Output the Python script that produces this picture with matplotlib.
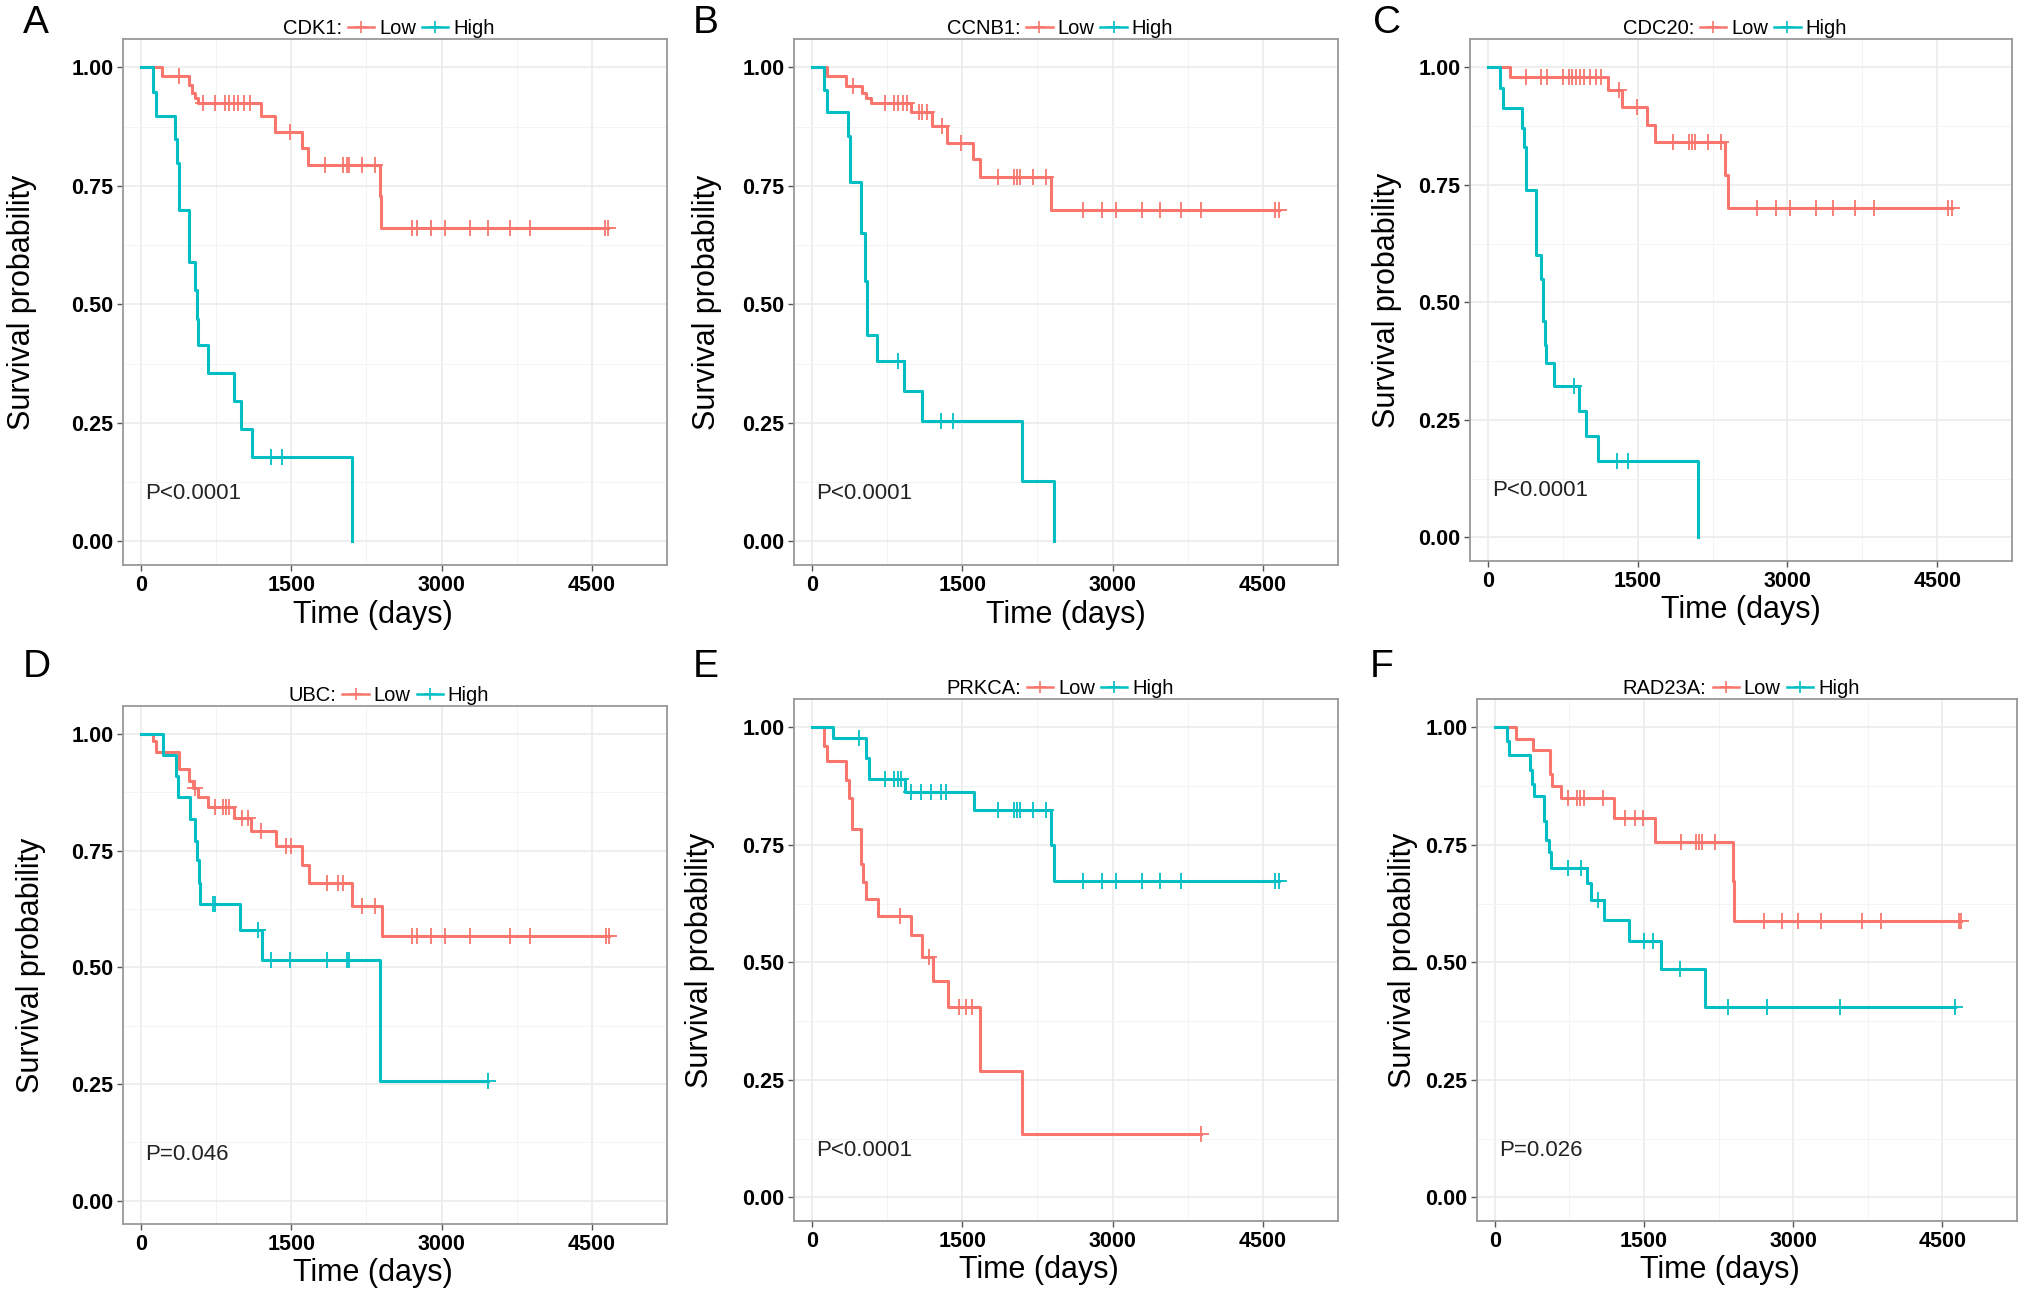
import numpy as np
import matplotlib
matplotlib.use('Agg')
import matplotlib.pyplot as plt
from matplotlib.lines import Line2D
from matplotlib.ticker import MultipleLocator, FormatStrFormatter

plt.rcParams['font.family'] = ['Liberation Sans', 'DejaVu Sans']

LOW_COLOR = '#F8766D'
HIGH_COLOR = '#00BFC4'

panel_letters = ['A', 'B', 'C', 'D', 'E', 'F']
genes = ['CDK1', 'CCNB1', 'CDC20', 'UBC', 'PRKCA', 'RAD23A']
p_texts = ['P<0.0001', 'P<0.0001', 'P<0.0001', 'P=0.046', 'P<0.0001', 'P=0.026']

# event times (days) / survival after each event / censor times
A_low_t = [208, 482, 510, 540, 570, 1200, 1342, 1607, 1664, 2385, 2400]
A_low_s = [0.982, 0.963, 0.945, 0.935, 0.925, 0.897, 0.864, 0.831, 0.794, 0.728, 0.662]
A_low_c = [382, 620, 740, 840, 880, 925, 970, 1025, 1090, 1490, 1837, 2011, 2054, 2076,
           2207, 2337, 2706, 2750, 2893, 3032, 3284, 3467, 3684, 3879, 4630, 4660]
A_high_t = [122, 152, 339, 360, 382, 478, 543, 556, 569, 665, 925, 995, 1108, 2107]
A_high_s = [0.949, 0.898, 0.849, 0.798, 0.70, 0.59, 0.53, 0.47, 0.414, 0.356, 0.297, 0.238, 0.177, 0.0]
A_high_c = [1295, 1412]

B_low_t = [152, 339, 500, 535, 587, 991, 1196, 1352, 1604, 1678, 2383]
B_low_s = [0.981, 0.961, 0.945, 0.935, 0.925, 0.906, 0.876, 0.841, 0.807, 0.768, 0.70]
B_low_c = [404, 730, 817, 861, 904, 948, 1065, 1100, 1143, 1296, 1491, 1861, 2013, 2043,
           2078, 2209, 2339, 2709, 2891, 3035, 3296, 3470, 3687, 3883, 4622, 4665]
B_high_t = [122, 152, 361, 383, 491, 526, 548, 648, 913, 1100, 2100, 2413]
B_high_s = [0.952, 0.905, 0.855, 0.759, 0.65, 0.55, 0.435, 0.38, 0.317, 0.253, 0.127, 0.0]
B_high_c = [861, 1283, 1404]

C_low_t = [217, 1202, 1345, 1597, 1671, 2378, 2404]
C_low_s = [0.979, 0.951, 0.916, 0.878, 0.84, 0.77, 0.70]
C_low_c = [378, 530, 595, 747, 812, 842, 877, 920, 964, 1020, 1085, 1137, 1311, 1493, 1853,
           2014, 2049, 2079, 2200, 2331, 2700, 2882, 3025, 3286, 3459, 3676, 3872, 4609, 4653]
C_high_t = [117, 148, 343, 365, 386, 486, 530, 556, 573, 586, 660, 911, 985, 1102, 2105]
C_high_s = [0.955, 0.914, 0.87, 0.83, 0.738, 0.60, 0.55, 0.46, 0.41, 0.37, 0.323, 0.27, 0.215, 0.162, 0.0]
C_high_c = [864, 1293, 1406]

D_low_t = [122, 152, 374, 478, 521, 569, 665, 925, 1099, 1351, 1607, 1677, 2107, 2402]
D_low_s = [0.985, 0.962, 0.925, 0.899, 0.885, 0.866, 0.844, 0.82, 0.793, 0.761, 0.72, 0.681, 0.631, 0.567]
D_low_c = [540, 738, 817, 847, 882, 1012, 1064, 1199, 1447, 1499, 1859, 1968, 2011, 2207,
           2337, 2706, 2750, 2893, 3032, 3284, 3684, 3879, 4639, 4674]
D_high_t = [217, 347, 369, 491, 543, 556, 578, 586, 990, 1208, 2389]
D_high_s = [0.956, 0.91, 0.864, 0.817, 0.77, 0.73, 0.68, 0.636, 0.58, 0.515, 0.257]
D_high_c = [717, 738, 1164, 1295, 1490, 1859, 2054, 2076, 3467]

E_low_t = [122, 152, 339, 370, 396, 491, 509, 539, 657, 991, 1100, 1209, 1361, 1678, 2100]
E_low_s = [0.961, 0.928, 0.888, 0.85, 0.783, 0.71, 0.671, 0.634, 0.599, 0.559, 0.511, 0.46, 0.406, 0.268, 0.135]
E_low_c = [883, 1165, 1470, 1535, 1600, 3883]
E_high_t = [209, 535, 570, 926, 1613, 2383, 2413]
E_high_s = [0.978, 0.935, 0.89, 0.862, 0.824, 0.75, 0.673]
E_high_c = [470, 730, 817, 861, 891, 991, 1091, 1187, 1283, 1339, 1861, 2013, 2043, 2078,
            2209, 2339, 2709, 2891, 3035, 3296, 3470, 3687, 4622, 4665]

F_low_t = [209, 383, 552, 574, 661, 1200, 1609, 2391, 2409]
F_low_s = [0.975, 0.952, 0.90, 0.875, 0.849, 0.807, 0.756, 0.673, 0.588]
F_low_c = [739, 826, 857, 891, 1087, 1304, 1413, 1487, 1870, 2022, 2052, 2087, 2209, 2704,
           2891, 3043, 3283, 3696, 3878, 4665, 4687]
F_high_t = [122, 143, 348, 370, 391, 491, 509, 543, 565, 926, 970, 1100, 1348, 1674, 2109]
F_high_s = [0.97, 0.94, 0.91, 0.88, 0.853, 0.80, 0.76, 0.735, 0.70, 0.668, 0.633, 0.591, 0.545, 0.485, 0.404]
F_high_c = [739, 870, 1035, 1500, 1587, 1861, 2339, 2739, 3470, 4622]

curves = [
    ((A_low_t, A_low_s, A_low_c), (A_high_t, A_high_s, A_high_c)),
    ((B_low_t, B_low_s, B_low_c), (B_high_t, B_high_s, B_high_c)),
    ((C_low_t, C_low_s, C_low_c), (C_high_t, C_high_s, C_high_c)),
    ((D_low_t, D_low_s, D_low_c), (D_high_t, D_high_s, D_high_c)),
    ((E_low_t, E_low_s, E_low_c), (E_high_t, E_high_s, E_high_c)),
    ((F_low_t, F_low_s, F_low_c), (F_high_t, F_high_s, F_high_c)),
]

W, H = 2031, 1303
# axes boxes in pixels: left, top, right, bottom
boxes = [(123, 39, 667, 565), (794, 39, 1338, 565), (1470, 39, 2012, 561),
         (123, 706, 667, 1224), (794, 699, 1338, 1221), (1477, 699, 2017, 1221)]
ylabel_x = [-0.158, -0.133, -0.126, -0.142, -0.145, -0.11]
xlabel_x = [0.46, 0.5, 0.5, 0.46, 0.45, 0.45]
letter_pos = [(23, 23), (693, 23), (1373, 23), (23, 667), (693, 667), (1370, 667)]


def draw_group(ax, t, s, c, color):
    t = np.asarray(t, float)
    s = np.asarray(s, float)
    c = np.asarray(c, float)
    end = max(t.max(), c.max() if len(c) else 0)
    xs = np.concatenate([[0], t, [end]])
    ys = np.concatenate([[1], s, [s[-1]]])
    ax.step(xs, ys, where='post', color=color, lw=2.2, zorder=3)
    if len(c):
        idx = np.searchsorted(t, c, side='right')
        cy = np.concatenate([[1], s])[idx]
        ax.plot(c, cy, ls='none', marker='+', ms=11, mew=1.3, color=color, zorder=4)


fig = plt.figure(figsize=(W / 100, H / 100), dpi=100)

for i in range(6):
    l, t_, r, b = boxes[i]
    ax = fig.add_axes([l / W, 1 - b / H, (r - l) / W, (b - t_) / H])
    low, high = curves[i]
    draw_group(ax, *low, LOW_COLOR)
    draw_group(ax, *high, HIGH_COLOR)

    ax.set_xlim(-180, 5250)
    ax.set_ylim(-0.05, 1.06)
    ax.xaxis.set_major_locator(MultipleLocator(1500))
    ax.xaxis.set_minor_locator(MultipleLocator(750))
    ax.yaxis.set_major_locator(MultipleLocator(0.25))
    ax.yaxis.set_minor_locator(MultipleLocator(0.125))
    ax.yaxis.set_major_formatter(FormatStrFormatter('%.2f'))
    ax.grid(which='major', color='#ebebeb', lw=1.2, zorder=0)
    ax.grid(which='minor', color='#f4f4f4', lw=0.7, zorder=0)
    ax.set_axisbelow(True)
    ax.tick_params(which='major', length=4, width=1, color='#555555', labelsize=15.5,
                   labelcolor='black', pad=3)
    ax.tick_params(which='minor', length=0)
    for lab in ax.get_xticklabels() + ax.get_yticklabels():
        lab.set_fontweight('bold')
    for sp in ax.spines.values():
        sp.set_color('#999999')
        sp.set_linewidth(1.3)

    ax.set_ylabel('Survival probability', fontsize=22)
    ax.yaxis.set_label_coords(ylabel_x[i], 0.5)
    ax.set_xlabel('Time (days)', fontsize=22)
    ax.xaxis.set_label_coords(xlabel_x[i], -0.066)

    ax.text(40, 0.10, p_texts[i], fontsize=16, ha='left', va='center', color='#222222')

    handles = [Line2D([], [], ls='none'),
               Line2D([], [], color=LOW_COLOR, lw=1.8, marker='+', ms=9, mew=1.2),
               Line2D([], [], color=HIGH_COLOR, lw=1.8, marker='+', ms=9, mew=1.2)]
    ax.legend(handles, [genes[i] + ':', 'Low', 'High'], ncol=3, loc='lower center',
              bbox_to_anchor=(0.46, 0.995), frameon=False, fontsize=14.5,
              handlelength=1.3, handletextpad=0.25, columnspacing=0.3,
              borderaxespad=0.1, borderpad=0.1)

    fig.text(letter_pos[i][0] / W, 1 - letter_pos[i][1] / H, panel_letters[i],
             fontsize=28, ha='left', va='center')

fig.savefig('out.png', dpi=100)
